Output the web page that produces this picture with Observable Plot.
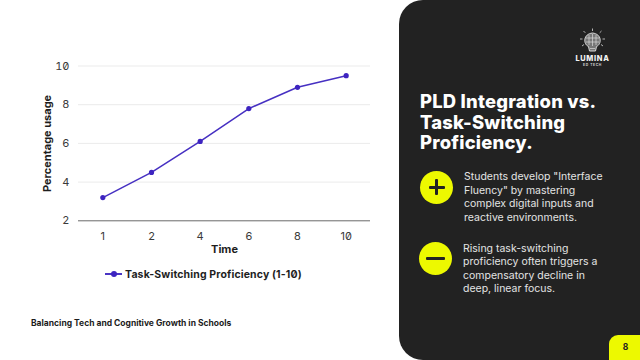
<!DOCTYPE html>
<html>
<head>
<meta charset="utf-8">
<script src="https://cdn.jsdelivr.net/npm/d3@7"></script>
<script src="https://cdn.jsdelivr.net/npm/@observablehq/plot@0.6"></script>
<style>
html,body{margin:0;padding:0;background:#fff;}
body{width:640px;height:360px;overflow:hidden;position:relative;font-family:Inter,sans-serif;}
#chart{position:absolute;left:0;top:0;}
#chart svg{display:block;font-feature-settings:"zero";}
.abs{position:absolute;}
#legend{left:105px;top:266px;height:16px;display:flex;align-items:center;gap:3px;font-size:10.5px;font-weight:700;color:#1e1e1e;font-feature-settings:"zero";letter-spacing:.14px;white-space:nowrap;}
#swatch{position:relative;width:17px;height:2px;background:#4a35c4;}
#swatch i{position:absolute;left:6px;top:-2px;width:6px;height:6px;border-radius:50%;background:#3d24c0;}
#footer{left:31px;top:318px;font-size:8.5px;font-weight:700;color:#1c1c1c;white-space:nowrap;}
#panel{left:399px;top:0;width:241px;height:360px;background:#222222;border-radius:24px 0 0 24px;}
#title{left:420px;top:91px;color:#fff;font-family:Inter,sans-serif;font-weight:800;font-size:18.4px;letter-spacing:.22px;line-height:20.6px;white-space:nowrap;}
.body{color:#e4e4e4;font-size:10.5px;line-height:13.6px;white-space:nowrap;}
.badge{width:33px;height:33px;border-radius:50%;background:#edf900;}
.badge b{position:absolute;background:#222;border-radius:1px;}
#page{left:609px;top:335px;width:33px;height:25px;background:#edf900;border-radius:9px 0 0 0;color:#222;font-size:8.5px;font-weight:700;text-align:center;line-height:25px;}
#logo{left:574px;top:28px;width:37px;text-align:center;color:#f2f2f2;}
#logo .n{position:absolute;left:0;top:25.500px;width:37px;font-size:7.4px;font-weight:800;letter-spacing:.7px;}
#logo .s{position:absolute;left:0;top:34.500px;width:37px;font-size:3.4px;font-weight:700;letter-spacing:.6px;color:#cfcfcf;}
</style>
</head>
<body>
<div id="panel" class="abs"></div>
<div id="chart"></div>
<div id="legend" class="abs"><span id="swatch"><i></i></span><span id="legendText"></span></div>
<div id="footer" class="abs"></div>
<div id="title" class="abs"></div>
<div id="logo" class="abs">
<svg width="37" height="26" viewBox="0 0 37 26" style="position:absolute;left:0;top:0" fill="none" stroke="#d8d8d8" stroke-width="1">
<path d="M14.500 18.500 C9 16 9 6 18.500 5 C28 6 28 16 22.500 18.500 L21.500 23 L15.500 23 Z" fill="#777"/>
<path d="M12 10 H25 M12 14 H25 M15 7 V17 M18.500 6 V18 M22 7 V17 M16 20.500 H21" stroke-width=".7"/>
<path d="M18.500 0.500V3M9.500 3l1.800 1.800M27.500 3l-1.800 1.800M6 11h2.500M31 11h-2.500M8 18l2-1.500M29 18l-2-1.500" stroke-width=".8"/>
</svg>
<div class="n">LUMINA</div><div class="s">ED TECH</div>
</div>
<div class="abs badge" style="left:420px;top:170.500px"><b style="left:8.500px;top:15px;width:16px;height:3px"></b><b style="left:15px;top:8.500px;width:3px;height:16px"></b></div>
<div class="abs badge" style="left:419px;top:242px"><b style="left:7px;top:15px;width:19px;height:3px"></b></div>
<div id="b1" class="abs body" style="left:464px;top:170px"></div>
<div id="b2" class="abs body" style="left:463px;top:241.500px"></div>
<div id="page" class="abs"></div>
<script>
const timeLabels = ["1", "2", "4", "6", "8", "10"];
const proficiency = [3.2, 4.5, 6.1, 7.8, 8.9, 9.5];
const yTicks = [2, 4, 6, 8, 10];
const seriesName = "Task-Switching Proficiency (1-10)";
const yLabel = "Percentage usage";
const xLabel = "Time";
const footerText = "Balancing Tech and Cognitive Growth in Schools";
const titleLines = ["PLD Integration vs.", "Task-Switching", "Proficiency."];
const bodyOne = ['Students develop "Interface', 'Fluency" by mastering', 'complex digital inputs and', 'reactive environments.'];
const bodyTwo = ['Rising task-switching', 'proficiency often triggers a', 'compensatory decline in', 'deep, linear focus.'];
const pageNumber = "8";

const rows = timeLabels.map((t, i) => ({t, v: proficiency[i]}));
const plot = Plot.plot({
  width: 399, height: 262,
  marginLeft: 78, marginRight: 29, marginTop: 65.5, marginBottom: 41.7,
  style: {fontFamily: "Inter, sans-serif", fontSize: "11px", color: "#3a3a3a", background: "transparent", overflow: "visible"},
  x: {type: "point", domain: timeLabels, padding: 0.5, round: false, label: null},
  y: {domain: [2, 10], label: null},
  marks: [
    Plot.ruleY(yTicks.filter(d => d > 2), {y: d => d, stroke: "#ebebeb", strokeWidth: 1}),
    Plot.ruleY([2], {stroke: "#6a6a6a", strokeWidth: 1}),
    Plot.axisX({tickSize: 0, tickPadding: 11, label: null, fontSize: 11, fill: "#3a3a3a"}),
    Plot.axisY({ticks: yTicks, tickSize: 0, tickPadding: 9, label: null, fontSize: 11, fill: "#3a3a3a"}),
    Plot.line(rows, {x: "t", y: "v", stroke: "#4630c2", strokeWidth: 1.5}),
    Plot.dot(rows, {x: "t", y: "v", r: 2.6, fill: "#3d24c0"}),
    Plot.text([xLabel], {frameAnchor: "bottom", dy: 32.5, text: d => d, fontSize: 11, fontWeight: 700, fill: "#1e1e1e"}),
    Plot.text([yLabel], {frameAnchor: "left", dx: -31, rotate: -90, textAnchor: "middle", text: d => d, fontSize: 11, fontWeight: 700, fill: "#1e1e1e"})
  ]
});
document.getElementById("chart").appendChild(plot);
document.getElementById("legendText").textContent = seriesName;
document.getElementById("footer").textContent = footerText;
document.getElementById("title").innerHTML = titleLines.join("<br>");
document.getElementById("b1").innerHTML = bodyOne.join("<br>");
document.getElementById("b2").innerHTML = bodyTwo.join("<br>");
document.getElementById("page").textContent = pageNumber;
</script>
</body>
</html>
